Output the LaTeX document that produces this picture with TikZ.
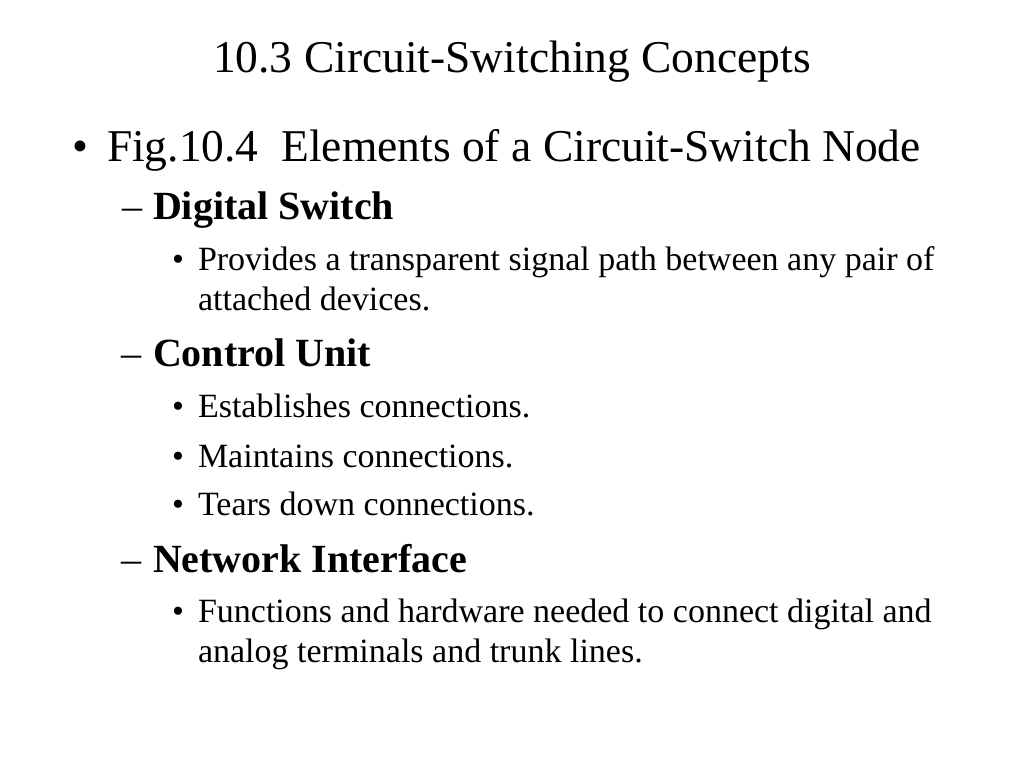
\documentclass[tikz,border=0pt]{standalone}
\usepackage{fontspec}
\setmainfont{Liberation Serif}
\begin{document}
\begin{tikzpicture}[x=1pt,y=-1pt,
  every node/.style={inner sep=0pt,outer sep=0pt,anchor=base west,text=black},
  titletext/.style={font=\fontsize{45.5}{50}\selectfont,anchor=base},
  lone/.style={font=\fontsize{45.5}{50}\selectfont},
  ltwo/.style={font=\fontsize{40}{44}\selectfont\bfseries},
  ltwodash/.style={font=\fontsize{40}{44}\selectfont},
  lthree/.style={font=\fontsize{34}{40}\selectfont},
]
\fill[white] (0,0) rectangle (1024,768);
\useasboundingbox (0,0) rectangle (1024,768);

\node[titletext] (title) at (512,72) {10.3 Circuit-Switching Concepts};

\node[lone] (b1) at (72,161) {•};
\node[lone] (t1) at (107,161) {Fig.10.4\ \ Elements of a Circuit-Switch Node};

\node[ltwodash] (d1) at (122,219) {–};
\node[ltwo] (t2) at (153,219) {Digital Switch};
\node[lthree] (b3) at (172,270) {•};
\node[lthree] (t3) at (198,270) {Provides a transparent signal path between any pair of};
\node[lthree] (t3b) at (198,310) {attached devices.};

\node[ltwodash] (d2) at (121,366) {–};
\node[ltwo] (t4) at (153,366) {Control Unit};
\node[lthree] (b5) at (172,417) {•};
\node[lthree] (t5) at (198,417) {Establishes connections.};
\node[lthree] (b6) at (172,467) {•};
\node[lthree] (t6) at (198,467) {Maintains connections.};
\node[lthree] (b7) at (172,515) {•};
\node[lthree] (t7) at (198,515) {Tears down connections.};

\node[ltwodash] (d3) at (121,572) {–};
\node[ltwo] (t8) at (153,572) {Network Interface};
\node[lthree] (b9) at (172,622) {•};
\node[lthree] (t9) at (198,622) {Functions and hardware needed to connect digital and};
\node[lthree] (t9b) at (198,662) {analog terminals and trunk lines.};
\end{tikzpicture}
\end{document}
